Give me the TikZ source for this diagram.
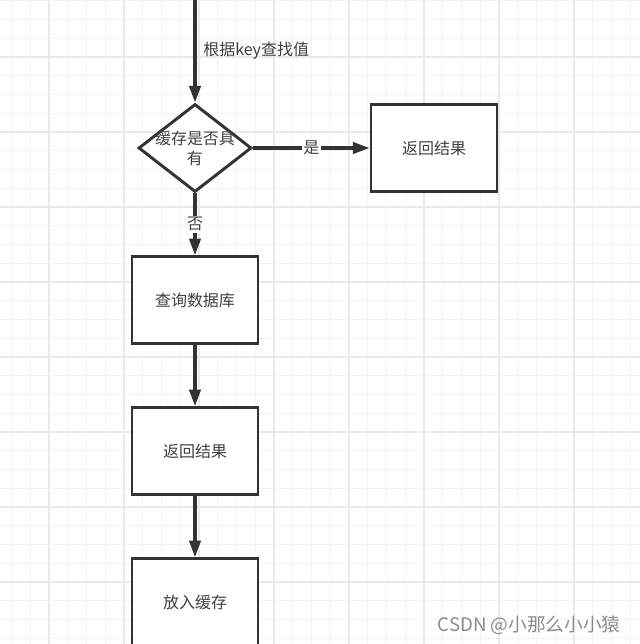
\documentclass[tikz,border=0pt]{standalone}
\usepackage{fontspec}
\setmainfont{Noto Sans CJK SC}
\usetikzlibrary{arrows.meta,shapes.geometric}
\definecolor{charcoal}{RGB}{51, 51, 51}
\definecolor{inktext}{RGB}{64, 64, 64}
\definecolor{gridminor}{RGB}{244, 244, 244}
\definecolor{gridmajor}{RGB}{234, 234, 234}
\definecolor{watermark}{RGB}{140, 140, 140}

\tikzset{
  flowbox/.style={draw=charcoal, line width=2.2pt, fill=white, text=inktext,
                  minimum width=94.5pt, minimum height=65pt, inner sep=0pt,
                  font=\fontsize{12}{15}\selectfont},
  decision/.style={diamond, draw=charcoal, line width=2.2pt, fill=white,
                   minimum width=84.75pt, minimum height=66pt, inner sep=0pt},
  flowline/.style={draw=charcoal, line width=2.4pt,
                   -{Triangle[length=12.5pt, width=8.5pt]}},
  edgelabel/.style={fill=white, text=inktext, inner sep=1pt,
                    font=\fontsize{12}{15}\selectfont}
}

\begin{document}
\begin{tikzpicture}[x=0.75pt, y=-0.75pt]
            \useasboundingbox (0,0) rectangle (640,644);
            \clip (0,0) rectangle (640,644);
            \fill[white] (0,0) rectangle (640,644);
            % grid
            \foreach \k in {0,...,34} {
              \draw[gridminor, line width=0.75pt] (11.5+18.75*\k, 0) -- (11.5+18.75*\k, 644);
              \draw[gridminor, line width=0.75pt] (0, 0.75+18.75*\k) -- (640, 0.75+18.75*\k);
            }
            \foreach \k in {0,...,8} {
              \draw[gridmajor, line width=0.9pt] (49+75*\k, 0) -- (49+75*\k, 644);
              \draw[gridmajor, line width=0.9pt] (0, 57+75*\k) -- (640, 57+75*\k);
            }

            \coordinate (entry) at (195, -2);
            \node[decision, label={[align=center, text=inktext, font=\fontsize{12}{15}\selectfont]center:缓存是否具\\有}] (hascache) at (195, 148) {};
            \node[flowbox] (hitresult) at (434, 148) {返回结果};
            \node[flowbox] (querydb)   at (195, 300) {查询数据库};
            \node[flowbox] (dbresult)  at (195, 451) {返回结果};
            \node[flowbox] (putcache)  at (195, 602) {放入缓存};

            \draw[flowline] (entry) -- (hascache.north)
                  node[midway, right, text=inktext, inner sep=5pt, font=\fontsize{12}{15}\selectfont] {根据key查找值};
            \draw[flowline] (hascache.east) -- (hitresult.west) node[edgelabel, pos=0.5] {是};
            \draw[flowline] (hascache.south) -- (querydb.north) node[edgelabel, pos=0.5] {否};
            \draw[flowline] (querydb) -- (dbresult);
            \draw[flowline] (dbresult) -- (putcache);

            \node[text=watermark, font=\fontsize{14}{16}\selectfont] (mark) at (529, 625) {CSDN @小那么小小猿};
\end{tikzpicture}
\end{document}
